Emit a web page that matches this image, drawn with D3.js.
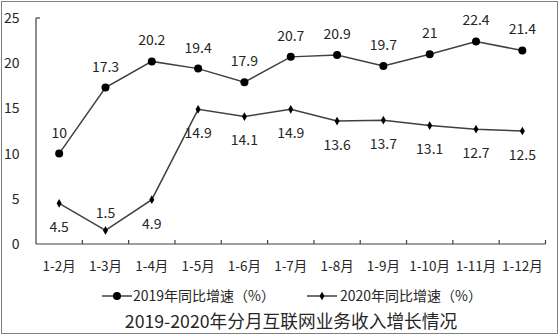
<!DOCTYPE html>
<html><head><meta charset="utf-8">
<script src="https://cdn.jsdelivr.net/npm/d3@7"></script>
<style>body{margin:0;background:#fff}svg{display:block}text{font-family:"Noto Sans CJK SC","Noto Sans",sans-serif;fill:#262626}</style>
</head><body><svg id="c" width="560" height="336"></svg>
<script>
const categories = ["1-2月","1-3月","1-4月","1-5月","1-6月","1-7月","1-8月","1-9月","1-10月","1-11月","1-12月"];
const values2019 = [10,17.3,20.2,19.4,17.9,20.7,20.9,19.7,21,22.4,21.4];
const values2020 = [4.5,1.5,4.9,14.9,14.1,14.9,13.6,13.7,13.1,12.7,12.5];
const yTicks = [0,5,10,15,20,25];
const seriesNames = ["2019年同比增速（%）","2020年同比增速（%）"];
const title = "2019-2020年分月互联网业务收入增长情况";

const svg = d3.select("#c");
svg.append("rect").attr("x",1.5).attr("y",1.5).attr("width",556).attr("height",332).attr("fill","#fff").attr("stroke","#7f7f7f").attr("stroke-width",1);

const x = d3.scaleBand().domain(categories).range([36,545.5]);
const y = d3.scaleLinear().domain([0,25]).range([244,18]);
const lineColor = "#404040";

// y axis
svg.append("line").attr("x1",36).attr("x2",36).attr("y1",y(25)).attr("y2",y(0)).attr("stroke",lineColor).attr("stroke-width",1.2);
svg.append("line").attr("x1",36).attr("x2",40).attr("y1",y(25)).attr("y2",y(25)).attr("stroke",lineColor).attr("stroke-width",1.2);
svg.selectAll(".yl").data(yTicks).enter().append("text").attr("x",19.5).attr("y",d=>y(d)).attr("dy","0.35em").attr("text-anchor","end").attr("font-size",14).text(d=>d);

// x axis
svg.append("line").attr("x1",36).attr("x2",545.5).attr("y1",y(0)).attr("y2",y(0)).attr("stroke",lineColor).attr("stroke-width",1.2);
const bounds = categories.map(c=>x(c)+x.bandwidth());
svg.selectAll(".xt").data(bounds).enter().append("line").attr("x1",d=>d).attr("x2",d=>d).attr("y1",y(0)).attr("y2",y(0)-4).attr("stroke",lineColor).attr("stroke-width",1.2);
svg.selectAll(".xl").data(categories).enter().append("text").attr("x",d=>x(d)+x.bandwidth()/2).attr("y",266).attr("dy","0.35em").attr("text-anchor","middle").attr("font-size",13.5).text(d=>d);

const cx = d=>x(d)+x.bandwidth()/2;
const line = d3.line().x((d,i)=>cx(categories[i])).y(d=>y(d));

svg.append("path").datum(values2019).attr("d",line).attr("fill","none").attr("stroke",lineColor).attr("stroke-width",1.5);
svg.append("path").datum(values2020).attr("d",line).attr("fill","none").attr("stroke",lineColor).attr("stroke-width",1.5);

svg.selectAll(".m1").data(values2019).enter().append("circle").attr("cx",(d,i)=>cx(categories[i])).attr("cy",d=>y(d)).attr("r",4).attr("fill","#000");
const diamond = d3.symbol().type(d3.symbolDiamond).size(22);
svg.selectAll(".m2").data(values2020).enter().append("path").attr("d",diamond).attr("transform",(d,i)=>`translate(${cx(categories[i])},${y(d)})`).attr("fill","#000");

svg.selectAll(".l1").data(values2019).enter().append("text").attr("x",(d,i)=>cx(categories[i])).attr("y",d=>y(d)-21).attr("dy","0.35em").attr("text-anchor","middle").attr("font-size",14).text(d=>d);
svg.selectAll(".l2").data(values2020).enter().append("text").attr("x",(d,i)=>cx(categories[i])).attr("y",(d,i)=>i===1? y(d)-17 : y(d)+24).attr("dy","0.35em").attr("text-anchor","middle").attr("font-size",14).text(d=>d);

// legend
const leg = [{x1:102,x2:132,name:seriesNames[0],type:"c",tx:133},{x1:307,x2:337,name:seriesNames[1],type:"d",tx:340}];
leg.forEach(l=>{
  svg.append("line").attr("x1",l.x1).attr("x2",l.x2).attr("y1",296).attr("y2",296).attr("stroke",lineColor).attr("stroke-width",1.5);
  if(l.type==="c") svg.append("circle").attr("cx",(l.x1+l.x2)/2).attr("cy",296).attr("r",4).attr("fill","#000");
  else svg.append("path").attr("d",diamond).attr("transform",`translate(${(l.x1+l.x2)/2},296)`).attr("fill","#000");
  svg.append("text").attr("x",l.tx).attr("y",296).attr("dy","0.35em").attr("font-size",14).text(l.name);
});

svg.append("text").attr("x",291).attr("y",322).attr("dy","0.35em").attr("text-anchor","middle").attr("font-size",17.7).text(title);
</script></body></html>
